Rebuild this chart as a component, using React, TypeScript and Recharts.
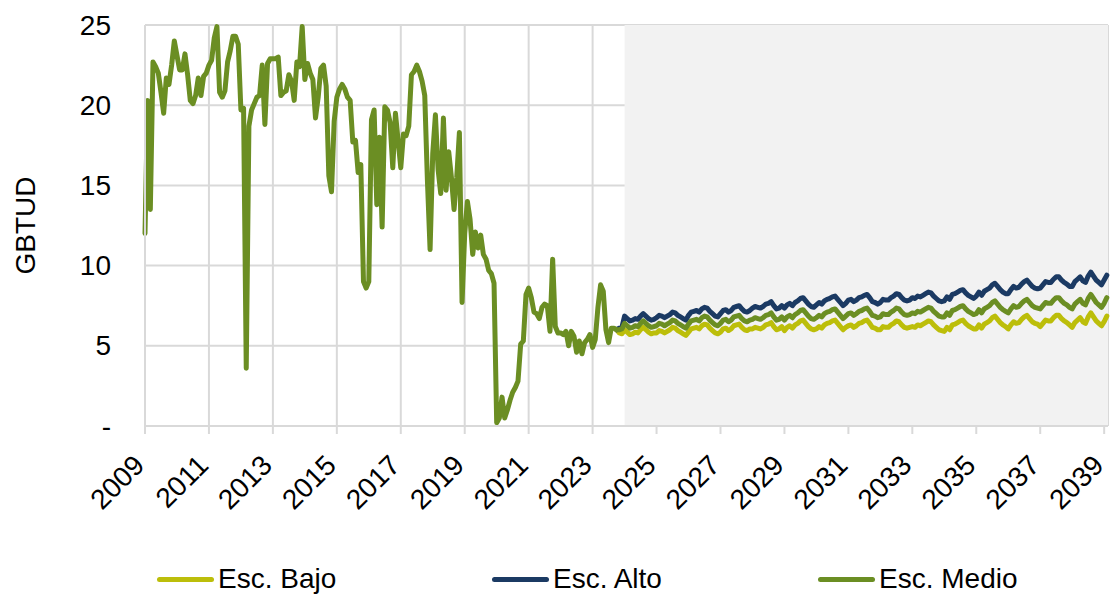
import {
  LineChart,
  Line,
  XAxis,
  YAxis,
  CartesianGrid,
  ReferenceArea,
  Legend,
} from "recharts";

// monthly series, first point = Jan 2009
const START_YEAR = 2009;
// index of Oct 2023, where the three scenarios branch off the history
const BRANCH = 177;

// GBTUD, Jan 2009 .. Oct 2023
const historico = [
  12.0, 20.3, 13.5, 22.7, 22.4, 22.0, 20.8, 19.5, 21.7, 21.3, 22.5, 24.0,
  23.1, 22.2, 22.2, 23.2, 21.9, 20.3, 20.1, 20.6, 21.7, 20.6, 21.8, 22.0,
  22.5, 22.8, 24.2, 24.9, 20.8, 20.5, 20.9, 22.7, 23.4, 24.3, 24.3, 23.8,
  19.7, 19.8, 3.6, 18.7, 19.7, 20.1, 20.5, 20.6, 22.5, 18.8, 22.6, 22.9,
  22.9, 22.9, 23.0, 20.6, 20.8, 20.9, 21.9, 21.5, 20.3, 22.7, 22.4, 24.9,
  21.6, 22.6, 22.0, 21.6, 19.2, 20.5, 22.3, 22.5, 21.2, 15.6, 14.6, 19.0,
  20.5, 21.0, 21.3, 21.0, 20.5, 20.3, 17.7, 17.8, 15.8, 16.3, 9.0, 8.6,
  9.0, 19.1, 19.7, 13.8, 18.0, 12.4, 19.9, 19.7, 18.9, 16.1, 19.5, 17.8,
  16.1, 18.2, 18.1, 18.7, 21.9, 22.1, 22.5, 22.1, 21.5, 20.6, 15.3, 11.0,
  17.0, 19.4, 16.0, 14.5, 19.2, 14.7, 17.1, 15.5, 13.5, 15.5, 18.3, 7.7,
  12.0, 14.0, 12.9, 10.7, 12.1, 11.1, 11.9, 10.7, 10.4, 9.7, 9.5, 8.9,
  0.2, 0.5, 1.8, 0.5, 1.0, 1.6, 2.1, 2.4, 2.8, 5.1, 5.3, 8.2,
  8.6, 8.0, 7.1, 7.0, 6.7, 7.4, 7.6, 7.5, 5.9, 10.4, 6.2, 5.8,
  5.8, 5.7, 5.9, 5.0, 5.9, 5.6, 4.6, 5.3, 4.5, 5.2, 5.4, 5.7,
  4.9, 5.4, 7.4, 8.8, 8.4, 6.0, 5.2, 6.1, 6.1, 6.0,
];

// scenarios, Oct 2023 .. Feb 2039
const escAlto = [
  6.0, 6.1, 6.15,
  6.85, 6.7, 6.55, 6.6, 6.7, 6.65, 6.85, 7.0, 6.85, 6.7, 6.6, 6.65,
  6.75, 6.9, 6.85, 6.75, 6.85, 6.95, 7.1, 7.05, 6.9, 6.8, 6.7, 6.6,
  6.9, 7.1, 7.15, 7.2, 7.1, 7.3, 7.4, 7.35, 7.15, 7.0, 6.85, 6.8,
  7.0, 7.2, 7.25, 7.1, 7.2, 7.4, 7.45, 7.5, 7.3, 7.15, 7.1, 7.2,
  7.35, 7.45, 7.4, 7.35, 7.45, 7.6, 7.65, 7.75, 7.5, 7.3, 7.35, 7.5,
  7.35, 7.55, 7.65, 7.5, 7.7, 7.8, 7.95, 8.0, 7.8, 7.6, 7.45, 7.4,
  7.55, 7.7, 7.6, 7.8, 7.9, 7.95, 8.05, 8.1, 7.9, 7.7, 7.5, 7.65,
  7.85, 7.9, 7.75, 7.85, 8.0, 8.05, 8.15, 8.2, 8.0, 7.75, 7.7, 7.6,
  7.7, 7.9, 7.85, 7.85, 8.0, 8.1, 8.25, 8.2, 8.0, 7.85, 7.8, 7.85,
  8.0, 7.95, 8.1, 8.05, 8.15, 8.25, 8.35, 8.3, 8.1, 7.95, 7.8, 7.75,
  7.8, 8.05, 7.9, 8.2, 8.25, 8.35, 8.45, 8.5, 8.3, 8.15, 8.05, 7.95,
  8.1, 8.35, 8.15, 8.4, 8.5, 8.6, 8.8, 8.9, 8.7, 8.5, 8.35, 8.25,
  8.25, 8.5, 8.7, 8.6, 8.65, 8.85, 9.0, 9.1, 8.9, 8.7, 8.6, 8.55,
  8.6, 8.8, 9.0, 8.95, 8.95, 9.15, 9.3, 9.3, 9.1, 8.95, 8.85, 8.7,
  8.7, 9.0, 9.15, 9.3, 9.05, 8.95, 9.35, 9.6, 9.35, 9.1, 8.95, 8.8,
  9.1, 9.4,
];

const escMedio = [
  6.0, 6.0, 6.05,
  6.4, 6.25, 6.1, 6.15, 6.25, 6.2, 6.4, 6.55, 6.4, 6.25, 6.15, 6.2,
  6.25, 6.4, 6.35, 6.25, 6.35, 6.45, 6.6, 6.55, 6.4, 6.3, 6.2, 6.1,
  6.35, 6.55, 6.6, 6.65, 6.55, 6.75, 6.85, 6.8, 6.6, 6.45, 6.3, 6.25,
  6.4, 6.6, 6.65, 6.5, 6.6, 6.8, 6.85, 6.9, 6.7, 6.55, 6.5, 6.6,
  6.65, 6.75, 6.7, 6.65, 6.75, 6.9, 6.95, 7.05, 6.8, 6.6, 6.65, 6.8,
  6.6, 6.8, 6.9, 6.75, 6.95, 7.05, 7.2, 7.25, 7.05, 6.85, 6.7, 6.65,
  6.75, 6.9, 6.8, 7.0, 7.1, 7.15, 7.25, 7.3, 7.1, 6.9, 6.7, 6.85,
  7.0, 7.05, 6.9, 7.0, 7.15, 7.2, 7.3, 7.35, 7.15, 6.9, 6.85, 6.75,
  6.8, 7.0, 6.95, 6.95, 7.1, 7.2, 7.35, 7.3, 7.1, 6.95, 6.9, 6.95,
  7.05, 7.0, 7.15, 7.1, 7.2, 7.3, 7.4, 7.35, 7.15, 7.0, 6.85, 6.8,
  6.8, 7.05, 6.9, 7.2, 7.25, 7.35, 7.45, 7.5, 7.3, 7.15, 7.05, 6.95,
  7.0, 7.25, 7.05, 7.3, 7.4, 7.5, 7.7, 7.8, 7.6, 7.4, 7.25, 7.15,
  7.05, 7.3, 7.5, 7.4, 7.45, 7.65, 7.8, 7.9, 7.7, 7.5, 7.4, 7.35,
  7.3, 7.5, 7.7, 7.65, 7.65, 7.85, 8.0, 8.0, 7.8, 7.65, 7.55, 7.4,
  7.3, 7.6, 7.75, 7.9, 7.65, 7.55, 7.95, 8.2, 7.95, 7.7, 7.55, 7.4,
  7.65, 8.0,
];

const escBajo = [
  6.0, 5.8, 5.75,
  6.0, 5.85, 5.7, 5.75, 5.85, 5.8, 6.0, 6.15, 6.0, 5.85, 5.75, 5.8,
  5.8, 5.95, 5.9, 5.8, 5.9, 6.0, 6.15, 6.1, 5.95, 5.85, 5.75, 5.65,
  5.85, 6.05, 6.1, 6.15, 6.05, 6.25, 6.35, 6.3, 6.1, 5.95, 5.8, 5.75,
  5.85, 6.05, 6.1, 5.95, 6.05, 6.25, 6.3, 6.35, 6.15, 6.0, 5.95, 6.05,
  6.05, 6.15, 6.1, 6.05, 6.15, 6.3, 6.35, 6.45, 6.2, 6.0, 6.05, 6.2,
  5.95, 6.15, 6.25, 6.1, 6.3, 6.4, 6.55, 6.6, 6.4, 6.2, 6.05, 6.0,
  6.05, 6.2, 6.1, 6.3, 6.4, 6.45, 6.55, 6.6, 6.4, 6.2, 6.0, 6.15,
  6.25, 6.3, 6.15, 6.25, 6.4, 6.45, 6.55, 6.6, 6.4, 6.15, 6.1, 6.0,
  6.0, 6.2, 6.15, 6.15, 6.3, 6.4, 6.55, 6.5, 6.3, 6.15, 6.1, 6.15,
  6.2, 6.15, 6.3, 6.25, 6.35, 6.45, 6.55, 6.5, 6.3, 6.15, 6.0, 5.95,
  5.9, 6.15, 6.0, 6.3, 6.35, 6.45, 6.55, 6.6, 6.4, 6.25, 6.15, 6.05,
  6.05, 6.3, 6.1, 6.35, 6.45, 6.55, 6.75, 6.85, 6.65, 6.45, 6.3, 6.2,
  6.05, 6.3, 6.5, 6.4, 6.45, 6.65, 6.8, 6.9, 6.7, 6.5, 6.4, 6.35,
  6.2, 6.4, 6.6, 6.55, 6.55, 6.75, 6.9, 6.9, 6.7, 6.55, 6.45, 6.3,
  6.15, 6.45, 6.6, 6.75, 6.5, 6.4, 6.8, 7.05, 6.8, 6.55, 6.4, 6.25,
  6.5, 6.85,
];

const yearTicks = [
  2009, 2011, 2013, 2015, 2017, 2019, 2021, 2023, 2025, 2027, 2029, 2031,
  2033, 2035, 2037, 2039,
];
const valueTicks = [0, 5, 10, 15, 20, 25];

const series = [
  { key: "bajo", name: "Esc. Bajo", color: "#BCBE0A" },
  { key: "alto", name: "Esc. Alto", color: "#1B3A63" },
  { key: "medio", name: "Esc. Medio", color: "#6B8E23" },
];

const FONT = "'Liberation Sans', Arial, sans-serif";

function buildData() {
  const rows: any[] = [];
  const total = BRANCH + escMedio.length;
  for (let i = 0; i < total; i++) {
    const row: any = { t: START_YEAR + i / 12 };
    if (i <= BRANCH) row.medio = historico[i];
    if (i >= BRANCH) {
      const k = i - BRANCH;
      row.alto = escAlto[k];
      row.medio = escMedio[k];
      row.bajo = escBajo[k];
    }
    rows.push(row);
  }
  return rows;
}

const data = buildData();

function YearTick({ x, y, payload }: any) {
  const ax = x + 1;
  const ay = y + 31;
  return (
    <text
      x={ax}
      y={ay}
      transform={`rotate(-45, ${ax}, ${ay})`}
      textAnchor="end"
      fontSize={28}
      fontFamily={FONT}
      fill="#000"
    >
      {payload.value}
    </text>
  );
}

function ValueTick({ x, y, payload }: any) {
  return (
    <text
      x={x}
      y={y}
      textAnchor="end"
      dominantBaseline="central"
      fontSize={28}
      fontFamily={FONT}
      fill="#000"
    >
      {payload.value === 0 ? "-" : payload.value}
    </text>
  );
}

function YTitle({ viewBox }: any) {
  const cx = 25;
  const cy = viewBox.y + viewBox.height / 2;
  return (
    <text
      x={cx}
      y={cy}
      transform={`rotate(-90, ${cx}, ${cy})`}
      textAnchor="middle"
      dominantBaseline="central"
      fontSize={28}
      fontFamily={FONT}
      fill="#000"
    >
      GBTUD
    </text>
  );
}

// left edge of each legend sample line
const legendLeft = [157, 492, 818];

function LegendBox() {
  return (
    <div style={{ position: "relative", width: 1110, height: 30 }}>
      {series.map((s, i) => (
        <div
          key={s.key}
          style={{
            position: "absolute",
            left: legendLeft[i],
            top: 0,
            height: 30,
            display: "flex",
            alignItems: "center",
            fontFamily: FONT,
            fontSize: 28,
            color: "#000",
          }}
        >
          <span
            style={{
              display: "inline-block",
              width: 57,
              height: 5,
              borderRadius: 3,
              background: s.color,
            }}
          />
          <span style={{ marginLeft: 4 }}>{s.name}</span>
        </div>
      ))}
    </div>
  );
}

export default function App() {
  return (
    <div style={{ position: "absolute", left: 0, top: 0, background: "#fff" }}>
      <LineChart
        width={1110}
        height={594}
        data={data}
        margin={{ top: 25, right: 2, bottom: 0, left: 0 }}
      >
        <ReferenceArea
          x1={2024}
          x2={2039.12}
          y1={0}
          y2={25}
          fill="#F2F2F2"
          fillOpacity={1}
          stroke="none"
        />
        <CartesianGrid stroke="#D9D9D9" strokeWidth={2} />
        <XAxis
          dataKey="t"
          type="number"
          domain={[2009, 2039.12]}
          ticks={yearTicks}
          interval={0}
          height={138}
          tickSize={8}
          tickMargin={2}
          axisLine={{ stroke: "#D9D9D9", strokeWidth: 2 }}
          tickLine={{ stroke: "#D9D9D9", strokeWidth: 2 }}
          tick={<YearTick />}
        />
        <YAxis
          type="number"
          domain={[0, 25]}
          ticks={valueTicks}
          width={145}
          tickSize={0}
          tickMargin={34}
          axisLine={{ stroke: "#D9D9D9", strokeWidth: 2 }}
          tickLine={false}
          tick={<ValueTick />}
          label={(props: any) => <YTitle {...props} />}
        />
        {series.map((s) => (
          <Line
            key={s.key}
            type="linear"
            dataKey={s.key}
            name={s.name}
            stroke={s.color}
            strokeWidth={5}
            strokeLinejoin="round"
            strokeLinecap="round"
            dot={false}
            activeDot={false}
            isAnimationActive={false}
          />
        ))}
        <Legend
          verticalAlign="bottom"
          content={() => <LegendBox />}
          wrapperStyle={{ left: 0, width: 1110, bottom: 0 }}
        />
      </LineChart>
    </div>
  );
}
